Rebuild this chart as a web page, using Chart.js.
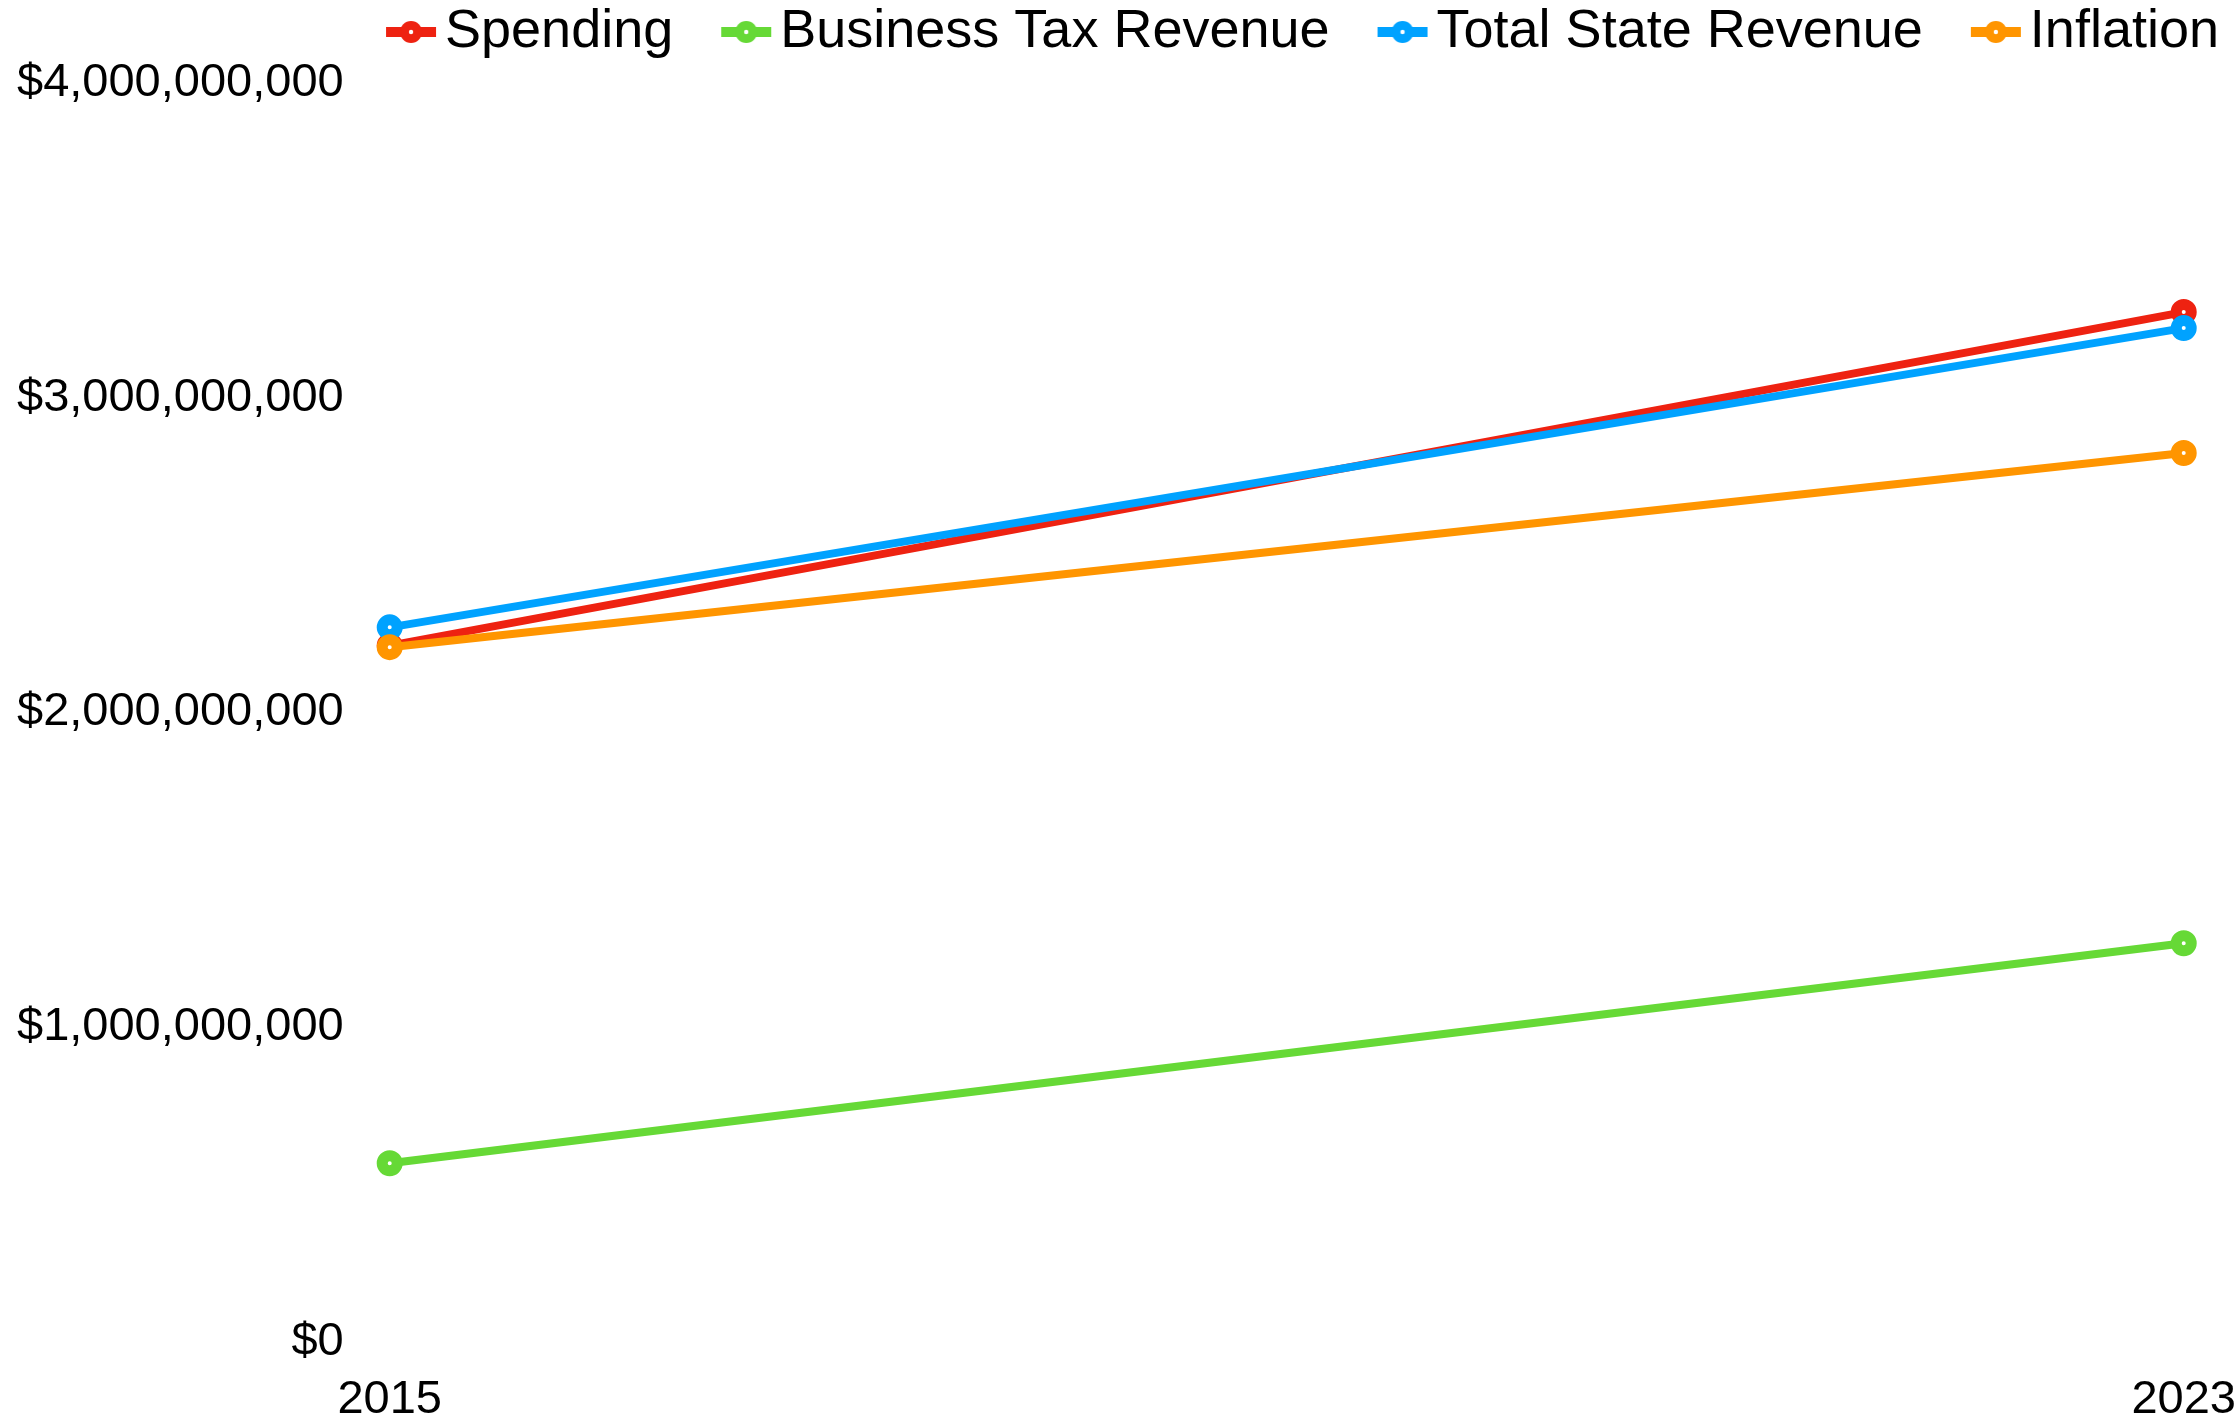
<!DOCTYPE html>
<html><head><meta charset="utf-8">
<script src="https://cdn.jsdelivr.net/npm/chart.js@4/dist/chart.umd.min.js"></script>
<style>html,body{margin:0;padding:0;background:#fff}#wrap{width:2236px;height:1421px;position:relative}</style>
</head><body><div id="wrap"><canvas id="c"></canvas></div>
<script>
const years = ['2015', '2023'];
const seriesNames = ['Spending', 'Business Tax Revenue', 'Total State Revenue', 'Inflation'];
const spending = [2.212e9, 3.272e9];
const businessTax = [0.567e9, 1.266e9];
const totalRevenue = [2.270e9, 3.221e9];
const inflation = [2.207e9, 2.824e9];
const yTicks = [0, 1e9, 2e9, 3e9, 4e9];
const seriesColors = ['#ee2211', '#66d936', '#00a2ff', '#ff9500'];

const FONT = '"Liberation Sans", Arial, Helvetica, sans-serif';
const LEG_FONT = 54, LEG_PAD = 1, LEG_BOX = 79;
const ICON_OFF = LEG_BOX / 2 - 7;

function legendIcon(color) {
  const w = 2 * (ICON_OFF + 30), h = 30;
  const c = document.createElement('canvas');
  c.width = w; c.height = h;
  const g = c.getContext('2d');
  const cx = w / 2 + ICON_OFF, cy = h / 2;
  g.fillStyle = color;
  g.fillRect(cx - 25, cy - 5, 50, 10);
  g.beginPath(); g.arc(cx, cy, 11, 0, Math.PI * 2); g.fill();
  g.fillStyle = '#fff';
  g.beginPath(); g.arc(cx, cy, 2.2, 0, Math.PI * 2); g.fill();
  return c;
}
const icons = seriesColors.map(legendIcon);

const allSeries = [spending, businessTax, totalRevenue, inflation];
const datasets = allSeries.map((vals, i) => ({
  label: seriesNames[i],
  data: vals,
  borderColor: seriesColors[i],
  backgroundColor: seriesColors[i],
  borderWidth: 8,
  pointRadius: 7.5,
  pointBorderWidth: 11,
  pointBackgroundColor: '#ffffff',
  pointBorderColor: seriesColors[i],
  pointHoverRadius: 7.5,
  tension: 0,
  order: allSeries.length - i
}));

const legendTweak = {
  id: 'legendTweak',
  afterInit(chart) {
    const lg = chart.legend;
    if (lg && !lg._patched) {
      const fit = lg.fit;
      lg.fit = function () { fit.call(this); this.height += 14; };
      lg._patched = true;
    }
  }
};

new Chart(document.getElementById('c'), {
  type: 'line',
  data: { labels: years, datasets },
  plugins: [legendTweak],
  options: {
    responsive: true,
    maintainAspectRatio: false,
    animation: false,
    layout: { padding: { left: 17, right: 16, top: 4, bottom: -7 } },
    plugins: {
      tooltip: { enabled: false },
      legend: {
        position: 'top',
        align: 'end',
        labels: {
          usePointStyle: true,
          pointStyleWidth: LEG_BOX,
          padding: LEG_PAD,
          color: '#000',
          font: { family: FONT, size: LEG_FONT },
          sort: (a, b) => a.datasetIndex - b.datasetIndex,
          generateLabels(chart) {
            const items = Chart.defaults.plugins.legend.labels.generateLabels(chart);
            items.forEach(it => { it.pointStyle = icons[it.datasetIndex]; });
            return items;
          }
        }
      }
    },
    scales: {
      x: {
        type: 'category',
        offset: false,
        grid: { display: false, drawTicks: true, tickLength: 30 },
        border: { display: false },
        ticks: { color: '#000', padding: 0, maxRotation: 0, font: { family: FONT, size: 47 } }
      },
      y: {
        min: 0, max: 4e9,
        grid: { display: false, drawTicks: true, tickLength: 46 },
        border: { display: false },
        afterBuildTicks(scale) { scale.ticks = yTicks.map(v => ({ value: v })); },
        ticks: {
          color: '#000', padding: 0,
          font: { family: FONT, size: 47 },
          callback: v => '$' + Number(v).toLocaleString('en-US')
        }
      }
    }
  }
});
</script>
</body></html>
